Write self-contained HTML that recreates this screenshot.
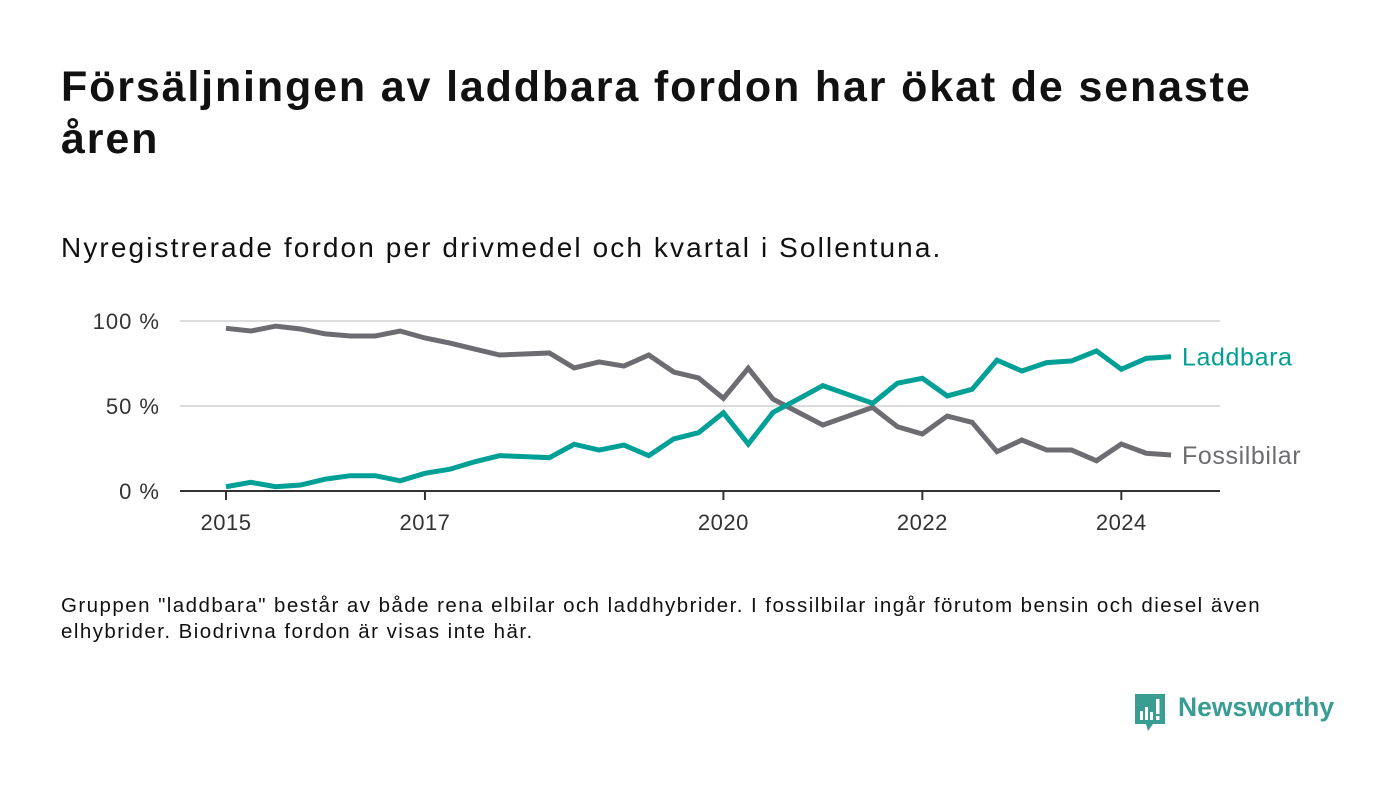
<!DOCTYPE html>
<html><head><meta charset="utf-8">
<style>
body{margin:0;width:1400px;height:793px;background:#fff;font-family:"Liberation Sans",sans-serif;color:#111;position:relative;overflow:hidden}
#title{position:absolute;left:61px;top:61px;font-size:43px;font-weight:bold;line-height:52px;letter-spacing:1.85px}
#sub{position:absolute;left:61px;top:232px;font-size:28px;letter-spacing:2.1px}
#foot{position:absolute;left:61px;top:593px;font-size:20.5px;line-height:26px;width:1330px;letter-spacing:1.45px}
svg{position:absolute;left:0;top:0}
#logo{position:absolute;left:1133px;top:693px}
#logotext{position:absolute;left:1178px;top:692px;font-size:26.5px;font-weight:bold;color:#3a9d94}
</style></head><body>
<div id="title">Försäljningen av laddbara fordon har ökat de senaste<br>åren</div>
<div id="sub">Nyregistrerade fordon per drivmedel och kvartal i Sollentuna.</div>
<svg id="chart" width="1400" height="793"></svg>
<div id="foot">Gruppen "laddbara" består av både rena elbilar och laddhybrider. I fossilbilar ingår förutom bensin och diesel även<br>elhybrider. Biodrivna fordon är visas inte här.</div>
<svg id="logo" width="34" height="40"><path d="M2 1h30v30H20l-5 7-2-7H2z" fill="#3a9d94"/><rect x="7" y="18" width="3" height="9" fill="#fff"/><rect x="12" y="14" width="3" height="13" fill="#fff"/><rect x="17" y="19" width="3" height="8" fill="#fff"/><rect x="23" y="6" width="3.5" height="15" fill="#fff"/><rect x="23" y="23" width="3.5" height="4" fill="#fff"/></svg>
<div id="logotext">Newsworthy</div>
<script>
const quarters=[0,1,2,3,4,5,6,7,8,9,10,11,12,13,14,15,16,17,18,19,20,21,22,23,24,25,26,27,28,29,30,31,32,33,34,35,36,37,38];
const laddbara=[2.5,5.1,2.5,3.5,7,9,9,6,10.4,12.8,17.2,20.8,20.2,19.6,27.5,24.1,27,20.8,30.6,34.3,46,27.6,46.3,54,62,56.8,51.6,63.4,66.3,55.9,59.8,77,70.6,75.5,76.5,82.4,71.6,78,79];
const fossil=[95.7,94.1,97,95.3,92.4,91.2,91.2,94.1,90,87,83.5,80,80.6,81.2,72.4,75.9,73.5,80,70,66.5,54.5,72.2,54,46.4,38.8,44,49.2,37.8,33.5,44.1,40.4,23.1,30,24.1,24.1,17.8,27.6,22.2,21.2];
const yTicks=[0,50,100];
const yTickLabels=["0 %","50 %","100 %"];
const xTickYears=[2015,2017,2020,2022,2024];
const svg=document.getElementById('chart');
const NS='http://www.w3.org/2000/svg';
const x0=226,qw=24.87,y0=491,ypp=1.7;
function X(q){return x0+q*qw}
function Y(v){return y0-v*ypp}
function mk(t,a){const e=document.createElementNS(NS,t);for(const k in a)e.setAttribute(k,a[k]);svg.appendChild(e);return e}
yTicks.forEach((v,i)=>{
 if(v>0){const g=mk('line',{x1:180,x2:1220,y1:Y(v),y2:Y(v),stroke:'#dcdcdc','stroke-width':2});
 
 }
 const t=mk('text',{x:160,y:Y(v)+8,'text-anchor':'end','font-size':22,'letter-spacing':1,fill:'#333','font-family':'Liberation Sans, sans-serif'});
 t.textContent=yTickLabels[i];
 
 
});
const ax=mk('line',{x1:180,x2:1220,y1:y0,y2:y0,stroke:'#333','stroke-width':2});


xTickYears.forEach(yr=>{
 const xx=X((yr-2015)*4);
 const tk=mk('line',{x1:xx,x2:xx,y1:y0,y2:y0+9,stroke:'#333','stroke-width':2});
 
 
 const t=mk('text',{x:xx,y:530,'text-anchor':'middle','font-size':22,'letter-spacing':0.5,fill:'#333','font-family':'Liberation Sans, sans-serif'});
 t.textContent=yr;
 
 
});
function line(data,color,name,label){
 const p=mk('polyline',{points:data.map((v,i)=>X(quarters[i])+','+Y(v)).join(' '),fill:'none',stroke:color,'stroke-width':5,'stroke-linejoin':'miter'});
 
 
 const last=data[data.length-1];
 const t=mk('text',{x:X(quarters[quarters.length-1])+11,y:Y(last)+9,'font-size':25,'letter-spacing':0.6,fill:color,'font-family':'Liberation Sans, sans-serif'});
 t.textContent=label;
 
 
}
line(fossil,'#6d6c72','fossilbilar-line','Fossilbilar');
line(laddbara,'#00a096','laddbara-line','Laddbara');
</script>
</body></html>
